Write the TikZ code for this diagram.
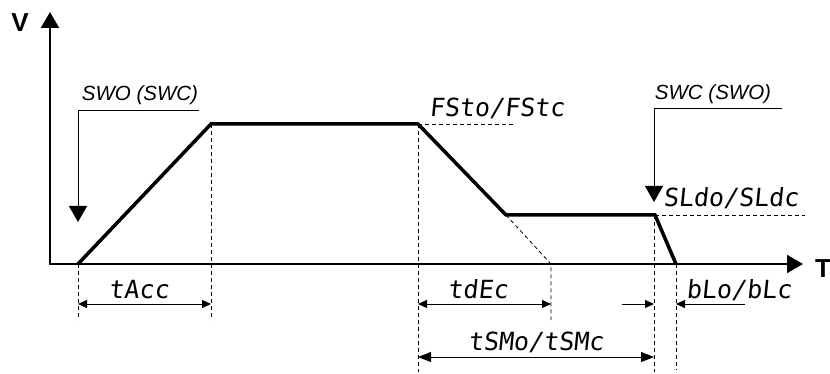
\documentclass[tikz,border=0pt]{standalone}
\usepackage{fontspec}
\setmainfont{Liberation Sans}
\newfontfamily\segfont[FakeSlant=0.1]{DejaVu Sans Mono}
\usetikzlibrary{arrows.meta}
\begin{document}
\begin{tikzpicture}[x=1pt,y=-1pt,
  axis/.style={line width=2pt,{Triangle[length=16pt,width=18pt]}-{Triangle[length=16pt,width=18pt]}},
  profile/.style={line width=3.5pt,line join=miter},
  guide/.style={line width=0.8pt,dash pattern=on 4pt off 3pt},
  pointer/.style={line width=1pt,-{Triangle[length=16pt,width=18pt]}},
  dimsmall/.style={line width=0.9pt,{Triangle[length=9pt,width=8pt]}-{Triangle[length=9pt,width=8pt]}},
  dimbig/.style={line width=0.9pt,{Triangle[length=13pt,width=10pt]}-{Triangle[length=13pt,width=10pt]}},
  halfdim/.style={line width=0.9pt,-{Triangle[length=9pt,width=8pt]}},
  seg/.style={font=\segfont\fontsize{25}{25}\selectfont,inner sep=0pt,anchor=base},
  note/.style={font=\itshape\fontsize{20.5}{20.5}\selectfont,inner sep=0pt,anchor=base},
  axlabel/.style={font=\bfseries\fontsize{26}{26}\selectfont,inner sep=0pt,anchor=base}]
\useasboundingbox (0,0) rectangle (830,374);
% axes
\coordinate (O) at (50,264);
\coordinate (Vtip) at (50,12);
\coordinate (Ttip) at (803,264);
\draw[axis] (Vtip) -- (O) -- (Ttip);
\node[axlabel] (V) at (20,32) {V};
\node[axlabel] (T) at (823,277) {T};
% profile points
\coordinate (p0) at (78,264);
\coordinate (p1) at (211,124);
\coordinate (p2) at (418,124);
\coordinate (p3) at (506,215);
\coordinate (p4) at (655,215);
\coordinate (p5) at (676,264);
% guide coordinates
\coordinate (g0) at (78,320);
\coordinate (g1) at (211,320);
\coordinate (g2) at (418,372);
\coordinate (g2h) at (515,124);
\coordinate (g3a) at (551,264);
\coordinate (g3b) at (551,320);
\coordinate (g4top) at (654,215);
\coordinate (g4) at (654,372);
\coordinate (g4h) at (805,215);
\coordinate (g5) at (676,370);
\draw[guide] (p0) -- (g0);
\draw[guide] (p1) -- (g1);
\draw[guide] (p2) -- (g2);
\draw[guide] (p2) -- (g2h);
\draw[guide] (p3) -- (g3a) -- (g3b);
\draw[guide] (g4top) -- (g4);
\draw[guide] (p4) -- (g4h);
\draw[guide] (p5) -- (g5);
% profile
\draw[profile] (p0) -- (p1) -- (p2) -- (p3) -- (p4) -- (p5);
% SWO pointer
\node[note] (swo) at (140,101) {SWO (SWC)};
\coordinate (s1a) at (199,111);
\coordinate (s1b) at (78,111);
\coordinate (s1c) at (78,222);
\draw[pointer] (s1a) -- (s1b) -- (s1c);
% SWC pointer
\node[note] (swc) at (713,100) {SWC (SWO)};
\coordinate (s2a) at (782,109);
\coordinate (s2b) at (654,109);
\coordinate (s2c) at (654,202);
\draw[pointer] (s2a) -- (s2b) -- (s2c);
% labels
\node[seg] (fst) at (497,117) {FSto/FStc};
\node[seg] (sld) at (731,207) {SLdo/SLdc};
\node[seg] (tacc) at (139,298) {tAcc};
\node[seg] (tdec) at (478,298) {tdEc};
\node[seg] (blo) at (739,298) {bLo/bLc};
\node[seg] (tsm) at (536,350) {tSMo/tSMc};
% dimension arrows
\coordinate (d1a) at (78,304);
\coordinate (d1b) at (211,304);
\draw[dimsmall] (d1a) -- (d1b);
\coordinate (d2a) at (418,304);
\coordinate (d2b) at (551,304);
\draw[dimsmall] (d2a) -- (d2b);
\coordinate (d3a) at (622,304);
\coordinate (d3b) at (654,304);
\draw[halfdim] (d3a) -- (d3b);
\coordinate (d4a) at (745,304);
\coordinate (d4b) at (676,304);
\draw[halfdim] (d4a) -- (d4b);
\coordinate (d5a) at (418,357);
\coordinate (d5b) at (654,357);
\draw[dimbig] (d5a) -- (d5b);
\end{tikzpicture}
\end{document}
